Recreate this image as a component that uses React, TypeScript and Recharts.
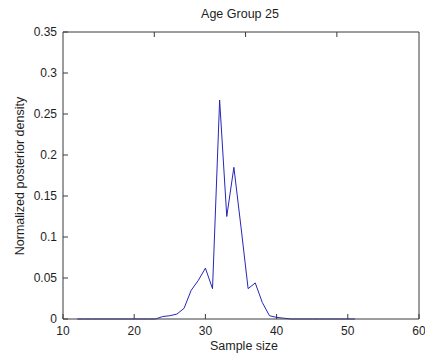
import React from 'react';
import { LineChart, Line, XAxis, YAxis } from 'recharts';

const sampleSize = [
  12, 13, 14, 15, 16, 17, 18, 19, 20, 21, 22, 23, 24, 25, 26, 27, 28, 29, 30, 31,
  32, 33, 34, 35, 36, 37, 38, 39, 40, 41, 42, 43, 44, 45, 46, 47, 48, 49, 50, 51,
];
const density = [
  0, 0, 0, 0, 0, 0, 0, 0, 0, 0, 0, 0, 0.003, 0.004, 0.006, 0.013, 0.035, 0.047, 0.062, 0.037,
  0.267, 0.125, 0.185, 0.112, 0.037, 0.044, 0.02, 0.004, 0.002, 0.001, 0, 0, 0, 0, 0, 0, 0, 0, 0, 0,
];
const xTicks = [10, 20, 30, 40, 50, 60];
const yTicks = [0, 0.05, 0.1, 0.15, 0.2, 0.25, 0.3, 0.35];

const title = 'Age Group 25';
const xLabel = 'Sample size';
const yLabel = 'Normalized posterior density';

const data = sampleSize.map((s, i) => ({ size: s, density: density[i] }));

const AXIS = '#3a3a3a';
const TEXT = '#1e1e1e';
const FONT = '"Liberation Sans", Arial, sans-serif';

const BottomTick = ({ x, y, payload }: any) => (
  <g>
    <line x1={x} x2={x} y1={y} y2={y - 5} stroke={AXIS} />
    <text x={x} y={y + 16} textAnchor="middle" fontSize={12} fill={TEXT} fontFamily={FONT}>
      {payload.value}
    </text>
  </g>
);

const LeftTick = ({ x, y, payload }: any) => (
  <g>
    <line x1={x} x2={x + 5} y1={y} y2={y} stroke={AXIS} />
    <text x={x - 6} y={y + 4} textAnchor="end" fontSize={12} fill={TEXT} fontFamily={FONT}>
      {String(payload.value)}
    </text>
  </g>
);

const TopTick = ({ x, y }: any) => <line x1={x} x2={x} y1={y} y2={y + 5} stroke={AXIS} />;
const RightTick = ({ x, y }: any) => <line x1={x} x2={x - 5} y1={y} y2={y} stroke={AXIS} />;

export default function App() {
  return (
    <div style={{ position: 'relative', width: 425, height: 360, background: '#fff', fontFamily: FONT }}>
      <style>{'body{margin:0}'}</style>
      <LineChart
        width={425}
        height={360}
        data={data}
        margin={{ top: 30, right: 4, bottom: 11, left: 23 }}
      >
        <XAxis
          dataKey="size"
          type="number"
          domain={[10, 60]}
          ticks={xTicks}
          height={30}
          tickSize={0}
          tickMargin={0}
          tick={<BottomTick />}
          axisLine={{ stroke: AXIS }}
          interval={0}
        />
        <XAxis
          xAxisId="top"
          orientation="top"
          type="number"
          domain={[10, 60]}
          ticks={xTicks}
          height={2}
          tickSize={0}
          tickMargin={0}
          tick={<TopTick />}
          axisLine={{ stroke: AXIS }}
          interval={0}
        />
        <YAxis
          type="number"
          domain={[0, 0.35]}
          ticks={yTicks}
          width={40}
          tickSize={0}
          tickMargin={0}
          tick={<LeftTick />}
          axisLine={{ stroke: AXIS }}
          interval={0}
        />
        <YAxis
          yAxisId="right"
          orientation="right"
          type="number"
          domain={[0, 0.35]}
          ticks={yTicks}
          width={2}
          tickSize={0}
          tickMargin={0}
          tick={<RightTick />}
          axisLine={{ stroke: AXIS }}
          interval={0}
        />
        <Line
          type="linear"
          dataKey="density"
          stroke="#2626b8"
          strokeWidth={1}
          dot={false}
          isAnimationActive={false}
        />
      </LineChart>
      <div style={{ position: 'absolute', left: 0, width: 480, top: 7, textAlign: 'center', fontSize: 12.5, color: TEXT }}>
        {title}
      </div>
      <div style={{ position: 'absolute', left: 0, width: 488, top: 339, textAlign: 'center', fontSize: 12.5, color: TEXT }}>
        {xLabel}
      </div>
      <div
        style={{
          position: 'absolute',
          left: 20,
          top: 176,
          fontSize: 12.5,
          color: TEXT,
          whiteSpace: 'nowrap',
          transform: 'translate(-50%, -50%) rotate(-90deg)',
        }}
      >
        {yLabel}
      </div>
    </div>
  );
}
